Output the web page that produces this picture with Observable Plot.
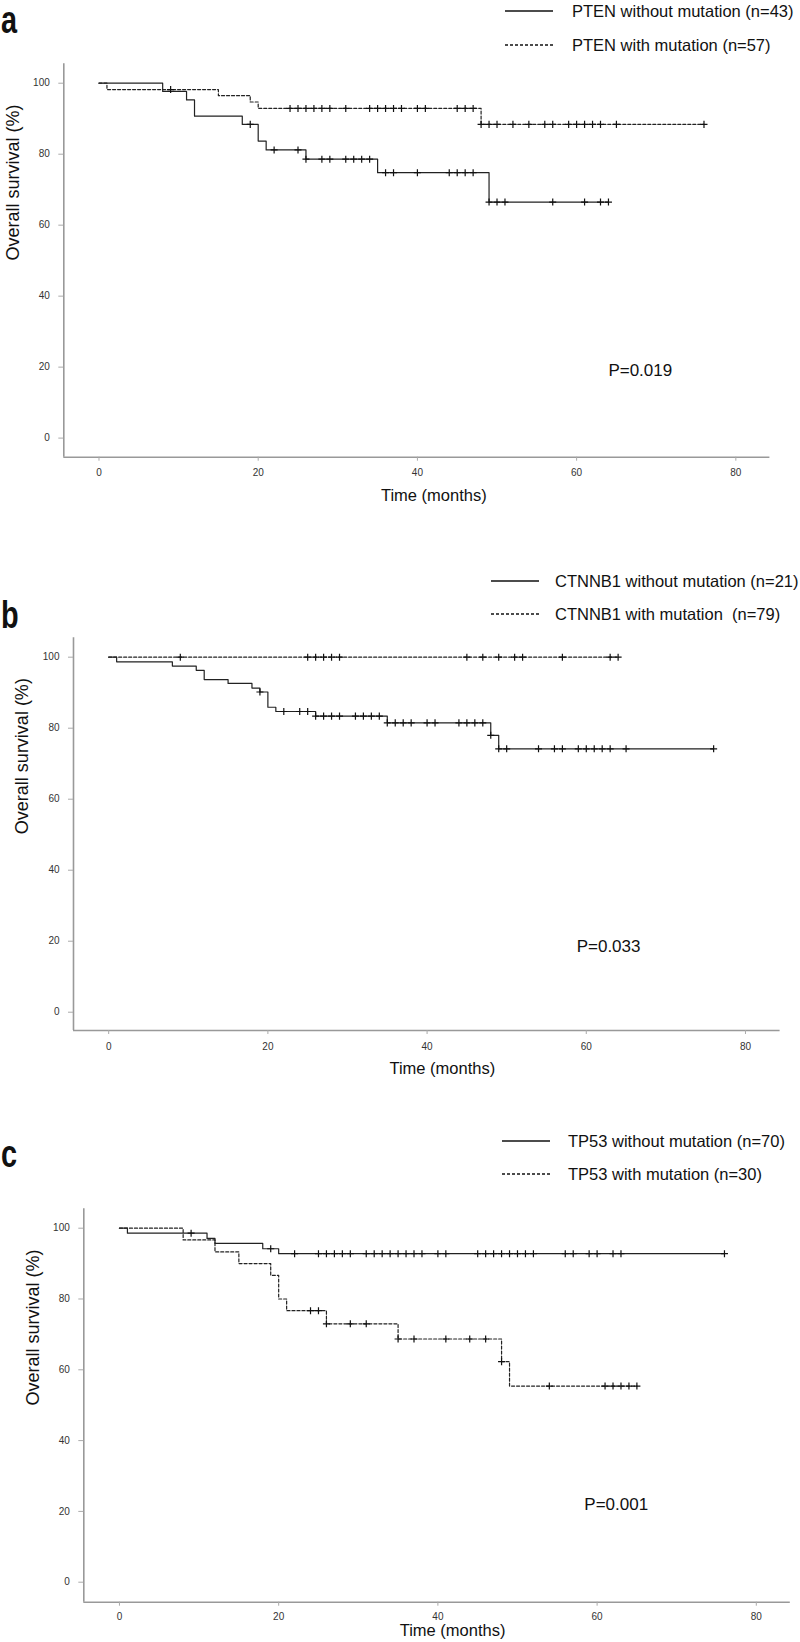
<!DOCTYPE html>
<html><head><meta charset="utf-8">
<script src="https://cdn.jsdelivr.net/npm/d3@7"></script>
<script src="https://cdn.jsdelivr.net/npm/@observablehq/plot@0.6"></script>
<style>
body{margin:0;background:#fff;}
#root{position:relative;width:800px;height:1642px;font-family:"Liberation Sans",Arial,sans-serif;color:#111;overflow:hidden;background:#fff}
.letter{position:absolute;font-weight:bold;font-size:38px;line-height:1;transform-origin:left center;transform:translateY(-50%) scaleX(0.76)}
.leg{position:absolute;font-size:16.5px;line-height:1;white-space:pre;transform:translateY(-50%)}
.sw{position:absolute;overflow:visible}
.plot{position:absolute;left:0}
</style></head><body><div id="root"></div>
<script>
// ---------- DATA ----------
const xTicks = [0, 20, 40, 60, 80];
const yTicks = [0, 20, 40, 60, 80, 100];

// Panel a — PTEN
const ptenWithoutTime = [0, 8, 11, 12, 18, 20, 21, 26, 35, 49];
const ptenWithoutSurv = [100, 97.7, 95.3, 90.7, 88.4, 83.7, 81.2, 78.6, 74.8, 66.5];
const ptenWithoutCensor = [19, 22, 25, 26, 28, 29, 31, 32, 33, 34, 36, 37, 40, 44, 45, 46, 47, 49, 50, 51, 57, 61, 63, 64];
const ptenWithTime = [0, 1, 15, 19, 20, 48];
const ptenWithSurv = [100, 98.2, 96.5, 94.7, 92.9, 88.4];
const ptenWithCensor = [9, 24, 25, 26, 27, 28, 29, 31, 34, 35, 36, 37, 38, 40, 41, 45, 46, 47, 48, 49, 50, 52, 54, 56, 57, 59, 60, 61, 62, 63, 65, 76];

// Panel b — CTNNB1
const ctnnb1WithoutTime = [0, 1, 8, 11, 12, 15, 18, 19, 20, 21, 26, 35, 48, 49];
const ctnnb1WithoutSurv = [100, 98.7, 97.5, 96.3, 93.7, 92.6, 91.3, 90.2, 85.9, 84.7, 83.4, 81.5, 78.0, 74.2];
const ctnnb1WithoutCensor = [19, 22, 24, 25, 26, 27, 28, 29, 31, 32, 33, 34, 35, 36, 37, 38, 40, 41, 44, 45, 46, 47, 48, 49, 50, 54, 56, 57, 59, 60, 61, 62, 63, 65, 76];
const ctnnb1WithTime = [0];
const ctnnb1WithSurv = [100];
const ctnnb1WithCensor = [9, 25, 26, 27, 28, 29, 45, 47, 49, 51, 52, 57, 63, 64];

// Panel c — TP53
const tp53WithoutTime = [0, 1, 11, 12, 18, 20];
const tp53WithoutSurv = [100, 98.6, 97.1, 95.7, 94.2, 92.8];
const tp53WithoutCensor = [9, 19, 22, 25, 26, 27, 28, 29, 31, 32, 33, 34, 35, 36, 37, 38, 40, 41, 45, 46, 47, 48, 49, 50, 51, 52, 56, 57, 59, 60, 62, 63, 76];
const tp53WithTime = [0, 8, 12, 15, 19, 20, 21, 26, 35, 48, 49];
const tp53WithSurv = [100, 96.7, 93.3, 90.0, 86.7, 80.0, 76.7, 73.0, 68.7, 62.3, 55.4];
const tp53WithCensor = [24, 25, 26, 29, 31, 35, 37, 41, 44, 46, 48, 54, 61, 62, 63, 64, 65];

const panelLetters = ["a", "b", "c"];
const legendWithout = ["PTEN without mutation (n=43)", "CTNNB1 without mutation (n=21)", "TP53 without mutation (n=70)"];
const legendWith = ["PTEN with mutation (n=57)", "CTNNB1 with mutation  (n=79)", "TP53 with mutation (n=30)"];
const pValues = ["P=0.019", "P=0.033", "P=0.001"];
const pValueAt = [[68, 19], [62.8, 18.5], [62.4, 22]];
const xTitle = "Time (months)";
const yTitle = "Overall survival (%)";

// ---------- HELPERS ----------
function stepAt(times, surv, t) {
  let s = surv[0];
  for (let i = 0; i < times.length; i++) if (times[i] <= t) s = surv[i];
  return s;
}
function km(times, surv, censor) {
  const end = Math.max(times[times.length - 1], ...censor);
  const pts = times.map((t, i) => ({t, s: surv[i]}));
  pts.push({t: end, s: surv[surv.length - 1]});
  const cens = censor.map(t => ({t, s: stepAt(times, surv, t)}));
  return {pts, cens};
}

const series = [
  [km(ptenWithoutTime, ptenWithoutSurv, ptenWithoutCensor), km(ptenWithTime, ptenWithSurv, ptenWithCensor)],
  [km(ctnnb1WithoutTime, ctnnb1WithoutSurv, ctnnb1WithoutCensor), km(ctnnb1WithTime, ctnnb1WithSurv, ctnnb1WithCensor)],
  [km(tp53WithoutTime, tp53WithoutSurv, tp53WithoutCensor), km(tp53WithTime, tp53WithSurv, tp53WithCensor)]
];

// layout (pixels)
const layout = [
  {top: 0, height: 520, mt: 63.3, mb: 63.3, ml: 63.3, mr: 30.6, xd: [-4.42, 84.28], yd: [-5.38, 105.47], tdx: 17, tdy: 43.3, tp: 8,
   letterY: 20, legY: [11, 44.5], swX: 505, txtX: 572},
  {top: 540, height: 545, mt: 97.3, mb: 55, ml: 73, mr: 20.4, xd: [-4.42, 84.35], yd: [-5.15, 105.46], tdx: 15.5, tdy: 43, tp: 8,
   letterY: 615, legY: [580.5, 614], swX: 491, txtX: 555},
  {top: 1100, height: 542, mt: 108.3, mb: 40.3, ml: 83.3, mr: 10.2, xd: [-4.48, 84.27], yd: [-5.65, 105.48], tdx: 15.5, tdy: 34, tp: 7,
   letterY: 1154, legY: [1140.5, 1173.5], swX: 502, txtX: 568}
];

const root = document.getElementById("root");
const FONT = '"Liberation Sans", Arial, sans-serif';

function addDiv(cls, text, left, top) {
  const d = document.createElement("div");
  d.className = cls; d.textContent = text;
  d.style.left = left + "px"; d.style.top = top + "px";
  root.appendChild(d);
  return d;
}
function addSwatch(x, y, dashed) {
  const ns = "http://www.w3.org/2000/svg";
  const s = document.createElementNS(ns, "svg");
  s.setAttribute("class", "sw");
  s.setAttribute("width", 48); s.setAttribute("height", 4);
  s.style.left = x + "px"; s.style.top = (y - 2) + "px";
  const l = document.createElementNS(ns, "line");
  l.setAttribute("x1", 0); l.setAttribute("x2", 48); l.setAttribute("y1", 2); l.setAttribute("y2", 2);
  l.setAttribute("stroke", "#111"); l.setAttribute("stroke-width", dashed ? 1.3 : 1.6);
  if (dashed) l.setAttribute("stroke-dasharray", "3,2");
  s.appendChild(l);
  root.appendChild(s);
}

layout.forEach((L, i) => {
  const [A, B] = series[i];
  const chart = Plot.plot({
    width: 800, height: L.height,
    marginLeft: L.ml, marginRight: L.mr, marginTop: L.mt, marginBottom: L.mb,
    x: {domain: L.xd},
    y: {domain: L.yd},
    style: {fontFamily: FONT, fontSize: "10px", color: "#222", background: "transparent", overflow: "visible"},
    marks: [
      Plot.ruleX([L.xd[0]], {stroke: "#999", strokeWidth: 1.6}),
      Plot.ruleY([L.yd[0]], {stroke: "#999", strokeWidth: 1.6}),
      Plot.axisX({ticks: xTicks, tickSize: 4, tickPadding: L.tp, stroke: "#aaa", fill: "#333", label: null, tickFormat: d => String(d)}),
      Plot.axisY({ticks: yTicks, tickSize: 5, tickPadding: 9, stroke: "#aaa", fill: "#333", label: null, tickFormat: d => String(d)}),
      Plot.line(A.pts, {x: "t", y: "s", curve: "step-after", stroke: "#222", strokeWidth: 1.2}),
      Plot.line(B.pts, {x: "t", y: "s", curve: "step-after", stroke: "#222", strokeWidth: 1.2, strokeDasharray: "3,2"}),
      Plot.dot(A.cens, {x: "t", y: "s", symbol: "plus", r: 2.4, stroke: "#111", strokeWidth: 1.2}),
      Plot.dot(B.cens, {x: "t", y: "s", symbol: "plus", r: 2.4, stroke: "#111", strokeWidth: 1.2}),
      Plot.text([{label: pValues[i], t: pValueAt[i][0], s: pValueAt[i][1]}], {x: "t", y: "s", text: "label", fontSize: 17, fill: "#111"}),
      Plot.text([xTitle], {frameAnchor: "bottom", dx: L.tdx, dy: L.tdy, fontSize: 16.5, fill: "#111"}),
      Plot.text([yTitle], {frameAnchor: "left", dx: -51, rotate: -90, fontSize: 18, fill: "#111"})
    ]
  });
  chart.classList.add("plot");
  chart.style.top = L.top + "px";
  root.appendChild(chart);

  addDiv("letter", panelLetters[i], 1, L.letterY);
  addSwatch(L.swX, L.legY[0], false);
  addSwatch(L.swX, L.legY[1], true);
  addDiv("leg", legendWithout[i], L.txtX, L.legY[0]);
  addDiv("leg", legendWith[i], L.txtX, L.legY[1]);
});
</script></body></html>
